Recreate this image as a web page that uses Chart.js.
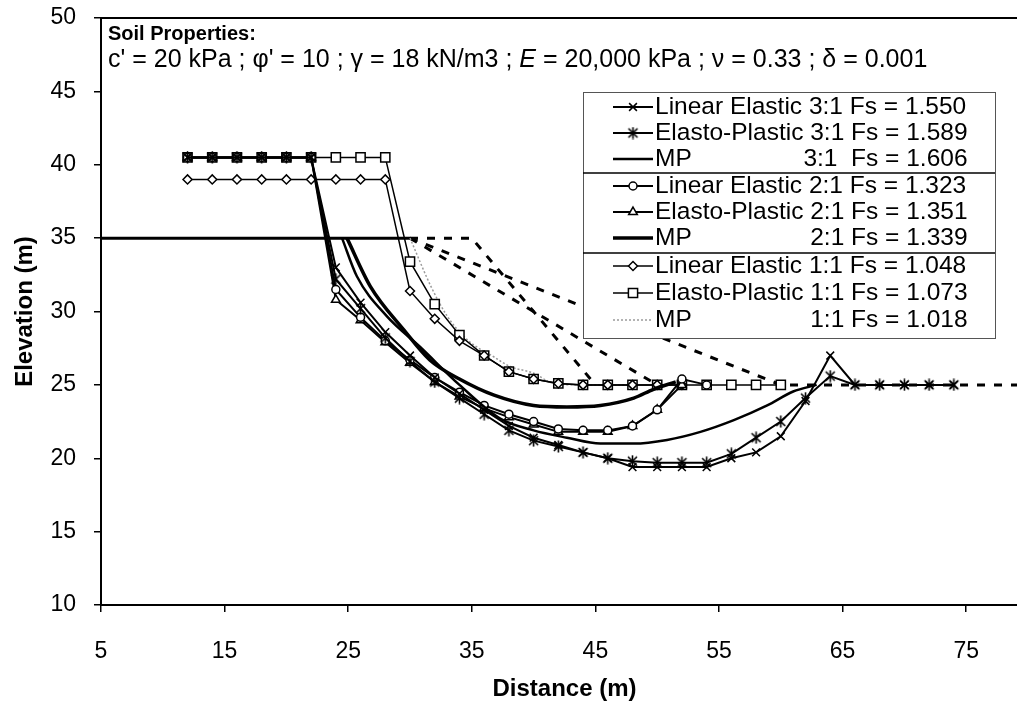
<!DOCTYPE html>
<html>
<head>
<meta charset="utf-8">
<title>Slip surfaces - Elevation vs Distance</title>
<script src="https://cdn.jsdelivr.net/npm/chart.js@4.4.0/dist/chart.umd.min.js"></script>
<style>
    html, body { margin: 0; padding: 0; background: #fff; overflow: hidden; }
    canvas { display: block; }
</style>
</head>
<body>
<canvas id="slope-chart" width="1040" height="706"></canvas>
<script>
// Axis ticks
const xTicks = [5, 15, 25, 35, 45, 55, 65, 75];
const yTicks = [10, 15, 20, 25, 30, 35, 40, 45, 50];

// Legend text, one entry per analysed surface
const seriesNames = [
    'Linear Elastic 3:1 Fs = 1.550',
    'Elasto-Plastic 3:1 Fs = 1.589',
    'MP      3:1  Fs = 1.606',
    'Linear Elastic 2:1 Fs = 1.323',
    'Elasto-Plastic 2:1 Fs = 1.351',
    'MP      2:1 Fs = 1.339',
    'Linear Elastic 1:1 Fs = 1.048',
    'Elasto-Plastic 1:1 Fs = 1.073',
    'MP      1:1 Fs = 1.018'
];

// Slope geometry (crest and the three slope faces)
const crestX = [5, 30];
const crestY = [35, 35];
const slope31X = [30, 60, 80];
const slope31Y = [35, 25, 25];
const slope21X = [30, 50];
const slope21Y = [35, 25];
const slope11X = [30, 35, 45];
const slope11Y = [35, 35, 25];

// 3:1 slope surfaces
const le31X = [12, 14, 16, 18, 20, 22, 24, 26, 28, 30, 32, 34, 36, 38, 40, 42, 44, 46, 48, 50, 52, 54, 56, 58, 60, 62, 64, 66, 68, 70, 72, 74];
const le31Y = [40.5, 40.5, 40.5, 40.5, 40.5, 40.5, 33.0, 30.6, 28.6, 27.0, 25.5, 24.4, 23.3, 22.2, 21.4, 20.9, 20.4, 20.0, 19.4, 19.4, 19.4, 19.4, 20.0, 20.4, 21.5, 23.9, 27.0, 25, 25, 25, 25, 25];
const ep31X = [12, 14, 16, 18, 20, 22, 24, 26, 28, 30, 32, 34, 36, 38, 40, 42, 44, 46, 48, 50, 52, 54, 56, 58, 60, 62, 64, 66, 68, 70, 72, 74];
const ep31Y = [40.5, 40.5, 40.5, 40.5, 40.5, 40.5, 32.2, 30.2, 28.2, 26.6, 25.2, 24.1, 23.0, 21.9, 21.2, 20.8, 20.4, 20.0, 19.8, 19.7, 19.7, 19.7, 20.3, 21.4, 22.5, 24.1, 25.6, 25, 25, 25, 25, 25];
const mp31X = [24.5, 25.7, 28.1, 30.8, 34.0, 37.3, 40.0, 42.7, 45.4, 48.1, 50.8, 53.5, 56.2, 58.9, 61.0, 62.9];
const mp31Y = [35, 32.4, 29.7, 27.6, 25.0, 22.7, 21.9, 21.4, 21.0, 21.0, 21.25, 21.8, 22.6, 23.6, 24.55, 25.0];

// 2:1 slope surfaces
const le21X = [12, 14, 16, 18, 20, 22, 24, 26, 28, 30, 32, 34, 36, 38, 40, 42, 44, 46, 48, 50, 52, 54];
const le21Y = [40.5, 40.5, 40.5, 40.5, 40.5, 40.5, 31.5, 29.6, 28.0, 26.7, 25.5, 24.5, 23.6, 23.0, 22.5, 22.0, 21.9, 21.9, 22.2, 23.3, 25.4, 25.0];
const ep21X = [12, 14, 16, 18, 20, 22, 24, 26, 28, 30, 32, 34, 36, 38, 40, 42, 44, 46, 48, 50, 52];
const ep21Y = [40.5, 40.5, 40.5, 40.5, 40.5, 40.5, 30.8, 29.4, 27.9, 26.5, 25.2, 24.2, 23.4, 22.8, 22.3, 21.8, 21.8, 21.8, 22.2, 23.3, 25.0];
const mp21X = [24.9, 26.8, 29.5, 31.6, 34.0, 36.8, 40.0, 42.7, 45.4, 48.1, 49.7, 51.5];
const mp21Y = [35, 31.7, 28.75, 26.7, 25.4, 24.3, 23.6, 23.5, 23.6, 24.1, 24.7, 25.2];

// 1:1 slope surfaces
const le11X = [12, 14, 16, 18, 20, 22, 24, 26, 28, 30, 32, 34, 36, 38, 40, 42, 44, 46, 48, 50, 52];
const le11Y = [39, 39, 39, 39, 39, 39, 39, 39, 39, 31.4, 29.5, 28.0, 27.0, 25.9, 25.4, 25.1, 25.0, 25, 25, 25, 25];
const ep11X = [12, 14, 16, 18, 20, 22, 24, 26, 28, 30, 32, 34, 36, 38, 40, 42, 44, 46, 48, 50, 52, 54, 56, 58, 60];
const ep11Y = [40.5, 40.5, 40.5, 40.5, 40.5, 40.5, 40.5, 40.5, 40.5, 33.4, 30.5, 28.4, 27.0, 25.9, 25.4, 25.1, 25.0, 25, 25, 25, 25, 25, 25, 25, 25];
const mp11X = [30, 31.7, 33.0, 34.6, 36.8, 38.1, 40.0, 41.6, 43.8, 48];
const mp11Y = [35, 31.7, 29.7, 28.1, 26.9, 26.25, 25.8, 25.1, 25.0, 25.0];

const FONT_FAMILY = "'Liberation Sans', Arial, sans-serif";

document.addEventListener('DOMContentLoaded', function() {
    createSlopeChart();
});

// Pair up x and y arrays into scatter points
function toPoints(xs, ys) {
    return xs.map((x, i) => ({ x: x, y: ys[i] }));
}

// Six-armed asterisk marker (an X with a vertical bar)
function makeAsteriskMarker() {
    const size = 13;
    const c = document.createElement('canvas');
    c.width = size;
    c.height = size;
    const g = c.getContext('2d');
    g.strokeStyle = '#000';
    g.lineWidth = 1.6;
    g.beginPath();
    g.moveTo(2, 2); g.lineTo(11, 11);
    g.moveTo(11, 2); g.lineTo(2, 11);
    g.moveTo(6.5, 0.5); g.lineTo(6.5, 12.5);
    g.stroke();
    return c;
}

// Black frame line along the top of the plot area
const topFramePlugin = {
    id: 'topFrame',
    afterDraw(chart) {
        const { ctx, chartArea } = chart;
        ctx.save();
        ctx.strokeStyle = '#000';
        ctx.lineWidth = 2;
        ctx.beginPath();
        ctx.moveTo(chartArea.left, chartArea.top);
        ctx.lineTo(chartArea.right, chartArea.top);
        ctx.stroke();
        ctx.restore();
    }
};

// Soil property note in the top left corner
const soilNotePlugin = {
    id: 'soilNote',
    afterDraw(chart) {
        const ctx = chart.ctx;
        const x0 = chart.chartArea.left + 7;
        ctx.save();
        ctx.fillStyle = '#000';
        ctx.textBaseline = 'middle';
        ctx.font = 'bold 20px ' + FONT_FAMILY;
        ctx.fillText('Soil Properties:', x0, 34);

        // second line, with E set in italics
        const parts = [
            { text: "c' = 20 kPa ; \u03c6' = 10 ; \u03b3 = 18 kN/m3 ; ", italic: false },
            { text: 'E', italic: true },
            { text: ' = 20,000 kPa ; \u03bd = 0.33 ; \u03b4 = 0.001', italic: false }
        ];
        let x = x0;
        parts.forEach(part => {
            ctx.font = (part.italic ? 'italic ' : '') + '25px ' + FONT_FAMILY;
            ctx.fillText(part.text, x, 60);
            x += ctx.measureText(part.text).width;
        });
        ctx.restore();
    }
};

// Boxed legend with a divider between each slope group
const slopeLegendPlugin = {
    id: 'slopeLegend',
    afterDatasetsDraw(chart) {
        const ctx = chart.ctx;
        const box = { left: 583, top: 92, right: 995, bottom: 338 };
        const rowYs = [107, 133, 159, 186, 212, 238, 266, 293, 320];
        const dividers = [173, 253];
        const lineStart = 613, lineEnd = 653, textX = 655;

        ctx.save();
        ctx.fillStyle = '#fff';
        ctx.fillRect(box.left, box.top, box.right - box.left, box.bottom - box.top);
        ctx.strokeStyle = '#555';
        ctx.lineWidth = 1;
        ctx.strokeRect(box.left + 0.5, box.top + 0.5, box.right - box.left, box.bottom - box.top);

        ctx.strokeStyle = '#000';
        ctx.lineWidth = 1.5;
        dividers.forEach(y => {
            ctx.beginPath();
            ctx.moveTo(box.left, y);
            ctx.lineTo(box.right, y);
            ctx.stroke();
        });

        ctx.font = '24.5px ' + FONT_FAMILY;
        ctx.textBaseline = 'middle';
        // widest plain label sets the right edge for the MP rows
        let textRight = 0;
        seriesNames.forEach(name => {
            if (!/\s{3,}/.test(name)) {
                textRight = Math.max(textRight, textX + ctx.measureText(name).width);
            }
        });

        seriesNames.forEach((name, i) => {
            const ds = chart.data.datasets[i];
            const y = rowYs[i];

            // line sample
            ctx.save();
            ctx.strokeStyle = ds.borderColor;
            ctx.lineWidth = ds.borderWidth;
            ctx.setLineDash(ds.borderDash || []);
            ctx.beginPath();
            ctx.moveTo(lineStart, y);
            ctx.lineTo(lineEnd, y);
            ctx.stroke();
            ctx.restore();

            // marker sample
            if (ds.pointRadius > 0) {
                ctx.save();
                ctx.fillStyle = ds.pointBackgroundColor;
                ctx.strokeStyle = ds.pointBorderColor;
                ctx.lineWidth = ds.pointBorderWidth;
                Chart.helpers.drawPoint(ctx, {
                    pointStyle: ds.pointStyle,
                    radius: ds.pointRadius,
                    rotation: 0,
                    borderWidth: ds.pointBorderWidth
                }, (lineStart + lineEnd) / 2, y);
                ctx.restore();
            }

            ctx.fillStyle = '#000';
            const split = name.split(/\s{3,}/);
            ctx.textAlign = 'left';
            ctx.fillText(split[0], textX, y);
            if (split.length > 1) {
                ctx.textAlign = 'right';
                ctx.fillText(split[1], textRight, y);
            }
        });
        ctx.restore();
    }
};

// Shared style for the marked (LE / EP) series
function markedSeries(label, xs, ys, pointStyle, radius, filled, lineWidth) {
    return {
        label: label,
        data: toPoints(xs, ys),
        showLine: true,
        borderColor: '#000',
        borderWidth: lineWidth,
        pointStyle: pointStyle,
        pointRadius: radius,
        pointHoverRadius: radius,
        pointBorderColor: '#000',
        pointBackgroundColor: filled ? '#000' : '#fff',
        pointBorderWidth: 1.5,
        tension: 0
    };
}

// Smooth curve with no markers (MP surfaces)
function smoothSeries(label, xs, ys, color, lineWidth, dash) {
    return {
        label: label,
        data: toPoints(xs, ys),
        showLine: true,
        borderColor: color,
        borderWidth: lineWidth,
        borderDash: dash || [],
        pointRadius: 0,
        pointHoverRadius: 0,
        cubicInterpolationMode: 'monotone'
    };
}

// Plain straight line for the slope outline
function outlineSeries(label, xs, ys, lineWidth, dash) {
    return {
        label: label,
        data: toPoints(xs, ys),
        showLine: true,
        borderColor: '#000',
        borderWidth: lineWidth,
        borderDash: dash || [],
        pointRadius: 0,
        pointHoverRadius: 0,
        tension: 0
    };
}

function createSlopeChart() {
    Chart.defaults.font.family = FONT_FAMILY;
    Chart.defaults.color = '#000';

    const asterisk = makeAsteriskMarker();

    const datasets = [
        markedSeries(seriesNames[0], le31X, le31Y, 'crossRot', 5.5, true, 2),
        markedSeries(seriesNames[1], ep31X, ep31Y, asterisk, 6, true, 2),
        smoothSeries(seriesNames[2], mp31X, mp31Y, '#000', 2.5),
        markedSeries(seriesNames[3], le21X, le21Y, 'circle', 4, false, 2),
        markedSeries(seriesNames[4], ep21X, ep21Y, 'triangle', 5, false, 2),
        smoothSeries(seriesNames[5], mp21X, mp21Y, '#000', 3.5),
        markedSeries(seriesNames[6], le11X, le11Y, 'rectRot', 4.5, false, 1.5),
        markedSeries(seriesNames[7], ep11X, ep11Y, 'rect', 6.5, false, 1.5),
        smoothSeries(seriesNames[8], mp11X, mp11Y, '#9a9a9a', 1.5, [2, 2]),
        outlineSeries('Crest', crestX, crestY, 3),
        outlineSeries('Slope 3:1', slope31X, slope31Y, 3, [8, 9]),
        outlineSeries('Slope 2:1', slope21X, slope21Y, 3, [8, 9]),
        outlineSeries('Slope 1:1', slope11X, slope11Y, 3, [8, 9])
    ];

    const ctx = document.getElementById('slope-chart').getContext('2d');
    new Chart(ctx, {
        type: 'scatter',
        data: { datasets: datasets },
        options: {
            responsive: false,
            animation: false,
            layout: {
                padding: { top: 18, right: 12, bottom: 0, left: 0 }
            },
            plugins: {
                legend: { display: false },
                tooltip: { enabled: false }
            },
            scales: {
                x: {
                    type: 'linear',
                    min: 5,
                    max: 80,
                    afterBuildTicks: function(scale) {
                        scale.ticks = xTicks.map(v => ({ value: v }));
                    },
                    afterFit: function(scale) {
                        scale.height = 101;
                        scale.paddingLeft = 0;
                        scale.paddingRight = 0;
                    },
                    grid: {
                        drawOnChartArea: false,
                        drawTicks: true,
                        tickLength: 7,
                        color: '#000',
                        lineWidth: 1.5
                    },
                    border: { display: true, color: '#000', width: 2 },
                    ticks: {
                        font: { size: 23 },
                        padding: 26,
                        maxRotation: 0
                    },
                    title: {
                        display: true,
                        text: 'Distance (m)',
                        font: { size: 24, weight: 'bold' },
                        padding: { top: 0, bottom: 2 }
                    }
                },
                y: {
                    type: 'linear',
                    min: 10,
                    max: 50,
                    afterBuildTicks: function(scale) {
                        scale.ticks = yTicks.map(v => ({ value: v }));
                    },
                    afterFit: function(scale) {
                        scale.width = 101;
                        scale.paddingTop = 0;
                        scale.paddingBottom = 0;
                    },
                    grid: {
                        drawOnChartArea: false,
                        drawTicks: true,
                        tickLength: 7,
                        color: '#000',
                        lineWidth: 1.5
                    },
                    border: { display: true, color: '#000', width: 2 },
                    ticks: {
                        font: { size: 23 },
                        padding: 18
                    },
                    title: {
                        display: true,
                        text: 'Elevation (m)',
                        font: { size: 24, weight: 'bold' },
                        padding: { top: 11, bottom: 0 }
                    }
                }
            }
        },
        plugins: [topFramePlugin, slopeLegendPlugin, soilNotePlugin]
    });
}
</script>
</body>
</html>
